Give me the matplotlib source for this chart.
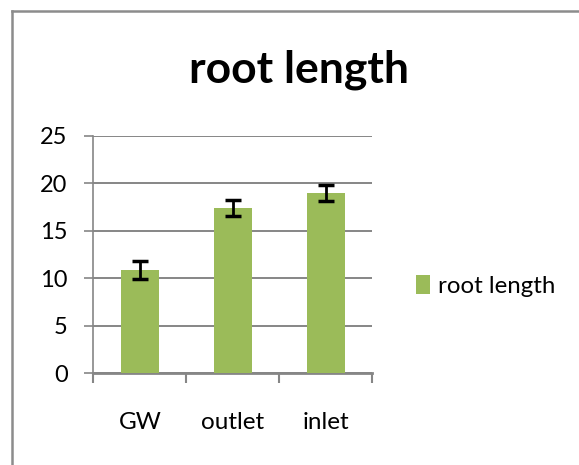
import matplotlib
matplotlib.use("Agg")
import matplotlib.pyplot as plt
from matplotlib.lines import Line2D

categories = ["GW", "outlet", "inlet"]
values = [10.9, 17.4, 19.0]
errors = [0.95, 0.85, 0.8]
series_name = "root length"
title = "root length"
yticks = [0, 5, 10, 15, 20, 25]

W, H = 579, 465
fig = plt.figure(figsize=(W / 100, H / 100), dpi=100)
plt.rcParams['font.family'] = ['Lato', 'DejaVu Sans']

# outer frame (left and top edges visible)
fig.add_artist(Line2D([12 / W, 12 / W], [0, 1 - 11 / H], color="#8c8c8c", lw=1.8, transform=fig.transFigure))
fig.add_artist(Line2D([12 / W, 1], [1 - 11 / H, 1 - 11 / H], color="#8c8c8c", lw=1.8, transform=fig.transFigure))

ax = fig.add_axes([93.4 / W, 1 - 373.3 / H, (372.2 - 93.4) / W, (373.3 - 136) / H])
x = list(range(len(categories)))
ax.bar(x, values, width=0.41, color="#9BBB59", zorder=3, label=series_name)
ax.errorbar(x, values, yerr=errors, fmt="none", ecolor="black", elinewidth=2,
            capsize=5.5, capthick=2.5, zorder=4)

ax.set_xlim(-0.5, 2.5)
ax.set_ylim(0, 25)
ax.set_yticks(yticks)
ax.set_yticklabels([str(t) for t in yticks], fontsize=17)
ax.set_xticks([-0.5, 0.5, 1.5, 2.5])
ax.set_xticklabels([])
ax.set_xticks(x, minor=True)
ax.set_xticklabels(categories, minor=True, fontsize=17.5)
ax.tick_params(axis="x", which="major", length=7.2, width=1.5, color="#868686", direction="out")
ax.tick_params(axis="x", which="minor", length=0, pad=28)
ax.tick_params(axis="y", length=6.5, width=1.2, color="#868686", pad=12)
ax.yaxis.grid(True, color="#868686", lw=1.4, zorder=0)
ax.set_axisbelow(True)
for s in ["top", "right"]:
    ax.spines[s].set_visible(False)
ax.spines["left"].set_color("#868686")
ax.spines["left"].set_linewidth(1.2)
ax.spines["bottom"].set_color("#868686")
ax.spines["bottom"].set_linewidth(2)

fig.text(298.5 / W, 1 - 70 / H, title, fontsize=32, fontweight="bold", ha="center", va="center")

ax.legend(loc="center left", bbox_to_anchor=(416 / W, 1 - 286 / H), bbox_transform=fig.transFigure,
          frameon=False, fontsize=17.3, handlelength=0.6, handleheight=0.8, handletextpad=0.3,
          borderpad=0, borderaxespad=0)

fig.savefig("out.png", dpi=100)
